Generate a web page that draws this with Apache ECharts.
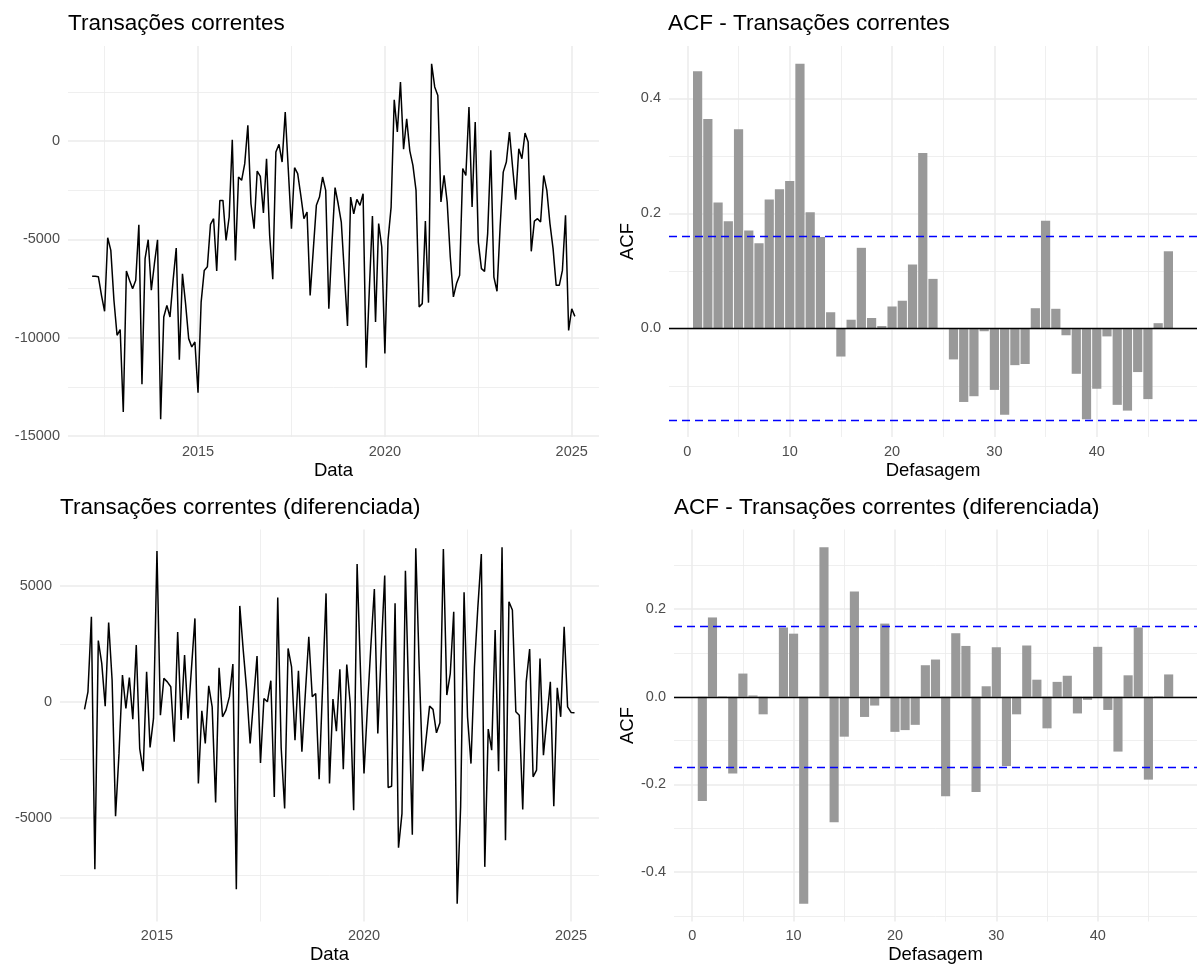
<!DOCTYPE html>
<html>
<head>
<meta charset="utf-8">
<script src="https://cdn.jsdelivr.net/npm/echarts@6/dist/echarts.min.js"></script>
<style>
  html, body { margin: 0; padding: 0; background: #ffffff; }
  #chart { width: 1197px; height: 967px; }
</style>
</head>
<body>
<div id="chart"></div>
<script>
// Transações correntes (mensal), mar/2012 – fev/2025
const inicioNivel = [2012, 3];
const transacoes = [
  -6880, -6880, -6900, -7850, -8660, -4915, -5560, -8100, -9880, -9590,
  -13780, -6610, -7085, -7510, -7085, -4255, -12370, -5980, -5020, -7590,
  -6240, -5020, -14150, -8950, -8360, -8950, -7085, -5440, -11120, -6750,
  -8270, -10050, -10475, -10220, -12800, -8190, -6580, -6400, -4240, -3950,
  -6610, -3020, -3020, -5050, -3865, 70, -6070, -1830, -2000, -1150,
  800, -3190, -4460, -1525, -1800, -3660, -900, -4800, -7030, -560,
  -170, -1070, 1475, -1500, -4460, -1355, -1660, -2760, -3950, -3610,
  -7850, -5560, -3270, -2850, -1830, -2510, -8530, -5220, -2370, -3190,
  -4120, -6750, -9410, -2850, -3700, -2970, -3270, -2680, -11530, -7590,
  -3810, -9200, -4200, -5390, -10810, -5050, -3360, 2100, 460, 3000,
  -420, 1135, -500, -1240, -2510, -8440, -8270, -4070, -8220, 3930,
  2750, 2320, -3100, -1750, -3100, -5900, -7930, -7250, -6830, -1400,
  -1750, 1730, -3360, 970, -5140, -6490, -6630, -4710, -475, -6920,
  -7640, -4370, -1580, -1070, 460, -1320, -2980, -390, -900, 410,
  -50, -5610, -4070, -3950, -4120, -1750, -2510, -4200, -5470, -7340,
  -7340, -6580, -3780, -9630, -8530, -8920
];

// Série diferenciada, abr/2013 – fev/2025
const inicioDif = [2013, 4];
const transacoesDif = [
  -330, 430, 3670, -7230, 2640, 1660, -190, 3420, 940, -4940,
  -2230, 1150, -290, 1040, -750, 2450, -2020, -3000, 1300, -1970,
  -720, 6510, -580, 1010, 860, 650, -1730, 3010, -790, 2020,
  -720, 1440, 3600, -3530, -390, -1800, 690, -220, -4350, 1470,
  -650, -360, 220, 1630, -8100, 4140, 2230, 500, -1800, 70,
  1970, -2640, 140, 0, 910, -4110, 4500, -2000, -4610, 2300,
  1510, -1660, 1340, -2160, 360, 2810, 220, 360, -3340, 650,
  4680, -3530, 115, -1270, 1400, -2910, 1610, -70, -4680, 5950,
  1220, -3100, -220, 2450, 4870, -1370, 2230, 5450, -3700, -3650,
  4250, -6300, -4830, 5660, -70, -5740, 6630, 1500, -3000, -1590,
  -190, -330, -1340, -910, 6600, 290, 1220, 3890, -8720, -4540,
  4730, -650, -2670, 1500, 4100, 6380, -7130, -1180, -2090, 3100,
  -3000, 6670, -5980, 4320, 3960, -430, -580, -4650, 860, 2280,
  -3240, -2950, 1870, -2310, -720, 860, -4510, 600, -650, 3240,
  -220, -460, -475
];

// Defasagens e autocorrelações
const defasagens = [
  1, 2, 3, 4, 5, 6, 7, 8, 9, 10, 11, 12, 13, 14, 15, 16, 17, 18, 19, 20,
  21, 22, 23, 24, 25, 26, 27, 28, 29, 30, 31, 32, 33, 34, 35, 36, 37, 38, 39, 40,
  41, 42, 43, 44, 45, 46, 47
];
const acfNivel = [
  0.447, 0.364, 0.219, 0.186, 0.346, 0.170, 0.148, 0.224, 0.242, 0.256,
  0.460, 0.202, 0.159, 0.028, -0.049, 0.015, 0.140, 0.018, 0.004, 0.038,
  0.048, 0.111, 0.305, 0.086, -0.001, -0.054, -0.128, -0.118, -0.005, -0.107,
  -0.150, -0.064, -0.062, 0.035, 0.187, 0.034, -0.012, -0.079, -0.158, -0.105,
  -0.014, -0.133, -0.143, -0.076, -0.123, 0.009, 0.134
];
const acfDif = [
  -0.238, 0.181, 0.001, -0.175, 0.053, 0.003, -0.040, 0.000, 0.158, 0.144,
  -0.472, -0.001, 0.341, -0.286, -0.091, 0.240, -0.046, -0.020, 0.167, -0.080,
  -0.076, -0.064, 0.072, 0.085, -0.227, 0.145, 0.116, -0.217, 0.024, 0.113,
  -0.158, -0.040, 0.117, 0.039, -0.072, 0.034, 0.048, -0.038, -0.007, 0.114,
  -0.030, -0.125, 0.049, 0.158, -0.189, 0.001, 0.051
];
// Limites de significância (±)
const limiteNivel = 0.157;
const limiteDif = 0.164;

// Marcas dos eixos (principais e secundárias)
const anosPrincipais = [2015, 2020, 2025];
const anosSecundarios = [2012.5, 2017.5, 2022.5];
const lagPrincipais = [0, 10, 20, 30, 40];
const lagSecundarios = [5, 15, 25, 35, 45];
const nivelPrincipais = [-15000, -10000, -5000, 0];
const nivelSecundarios = [-12500, -7500, -2500, 2500];
const difPrincipais = [-5000, 0, 5000];
const difSecundarios = [-7500, -2500, 2500];
const acfNivelPrincipais = [0, 0.2, 0.4];
const acfNivelSecundarios = [-0.1, 0.1, 0.3];
const acfDifPrincipais = [-0.4, -0.2, 0, 0.2];
const acfDifSecundarios = [-0.5, -0.3, -0.1, 0.1, 0.3];

const FONT = '"Liberation Sans", Arial, sans-serif';
const GRID_COLOR = '#EBEBEB';
const LABEL_COLOR = '#4D4D4D';

function mesDecimal(inicio, i) {
  const m = inicio[1] - 1 + i;
  return inicio[0] + Math.floor(m / 12) + (m % 12) / 12;
}
function expandir(lo, hi) {
  const r = hi - lo;
  return [lo - 0.05 * r, hi + 0.05 * r];
}
function dentro(vals, ext) {
  return vals.filter(v => v >= ext[0] && v <= ext[1]);
}

const ptsNivel = transacoes.map((v, i) => [mesDecimal(inicioNivel, i), v]);
const ptsDif = transacoesDif.map((v, i) => [mesDecimal(inicioDif, i), v]);
const barsNivel = defasagens.map((l, i) => [l, acfNivel[i]]);
const barsDif = defasagens.map((l, i) => [l, acfDif[i]]);

const xNivel = expandir(ptsNivel[0][0], ptsNivel[ptsNivel.length - 1][0]);
const yNivel = expandir(Math.min(...transacoes), Math.max(...transacoes));
const xDif = expandir(ptsDif[0][0], ptsDif[ptsDif.length - 1][0]);
const yDif = expandir(Math.min(...transacoesDif), Math.max(...transacoesDif));
const xLag = expandir(defasagens[0] - 0.45, defasagens[defasagens.length - 1] + 0.45);
const yAcfNivel = expandir(Math.min(0, -limiteNivel, ...acfNivel), Math.max(0, limiteNivel, ...acfNivel));
const yAcfDif = expandir(Math.min(0, -limiteDif, ...acfDif), Math.max(0, limiteDif, ...acfDif));

const grids = [
  { left: 68, top: 46, width: 531, height: 391 },
  { left: 669, top: 46, width: 536, height: 391 },
  { left: 60, top: 529.5, width: 539, height: 392 },
  { left: 674, top: 529.5, width: 531, height: 392 }
];

const labelStyle = { color: LABEL_COLOR, fontSize: 14.5, fontFamily: FONT };
const nameStyle = { color: '#000000', fontSize: 18.5, fontFamily: FONT };

function eixoX(idx, ext, ticks, nome, fmt) {
  return {
    type: 'value', gridIndex: idx, min: ext[0], max: ext[1],
    axisLine: { show: false }, axisTick: { show: false }, splitLine: { show: false },
    axisLabel: Object.assign({ customValues: ticks, formatter: fmt, margin: 7 }, labelStyle),
    name: nome, nameLocation: 'middle', nameGap: 24, nameTextStyle: nameStyle
  };
}
function eixoY(idx, ext, ticks, nome, fmt) {
  const ax = {
    type: 'value', gridIndex: idx, min: ext[0], max: ext[1],
    axisLine: { show: false }, axisTick: { show: false }, splitLine: { show: false },
    axisLabel: Object.assign({ customValues: ticks, formatter: fmt, margin: 8 }, labelStyle)
  };
  if (nome) {
    ax.name = nome; ax.nameLocation = 'middle'; ax.nameGap = 32; ax.nameTextStyle = nameStyle;
  }
  return ax;
}

const fmtInt = v => String(Math.round(v));
const fmtDec = v => v.toFixed(1);

// Linhas de grade desenhadas como markLine de uma série auxiliar, abaixo dos dados
function grade(idx, xExt, yExt, xMaj, xMin, yMaj, yMin) {
  const d = [];
  dentro(xMin, xExt).forEach(v => d.push({ xAxis: v, lineStyle: { width: 0.8 } }));
  dentro(yMin, yExt).forEach(v => d.push({ yAxis: v, lineStyle: { width: 0.8 } }));
  dentro(xMaj, xExt).forEach(v => d.push({ xAxis: v, lineStyle: { width: 1.5 } }));
  dentro(yMaj, yExt).forEach(v => d.push({ yAxis: v, lineStyle: { width: 1.5 } }));
  return {
    type: 'line', xAxisIndex: idx, yAxisIndex: idx, data: [], z: 1, silent: true,
    markLine: {
      z: 1, silent: true, symbol: ['none', 'none'], label: { show: false }, animation: false,
      emphasis: { disabled: true },
      lineStyle: { color: GRID_COLOR, type: 'solid' }, data: d
    }
  };
}

function referencias(idx, limite) {
  return {
    type: 'line', xAxisIndex: idx, yAxisIndex: idx, data: [], z: 6, silent: true,
    markLine: {
      z: 6, silent: true, symbol: ['none', 'none'], label: { show: false }, animation: false,
      emphasis: { disabled: true },
      data: [
        { yAxis: 0, lineStyle: { color: '#000000', width: 1.4, type: 'solid' } },
        { yAxis: limite, lineStyle: { color: '#0000FF', width: 1.4, type: [8, 5] } },
        { yAxis: -limite, lineStyle: { color: '#0000FF', width: 1.4, type: [8, 5] } }
      ]
    }
  };
}

function barra(params, api) {
  const lag = api.value(0), v = api.value(1);
  const a = api.coord([lag - 0.45, v]);
  const b = api.coord([lag + 0.45, 0]);
  return {
    type: 'rect',
    shape: { x: a[0], y: Math.min(a[1], b[1]), width: b[0] - a[0], height: Math.abs(b[1] - a[1]) },
    style: { fill: '#999999' }
  };
}

function linha(idx, pts) {
  return {
    type: 'line', xAxisIndex: idx, yAxisIndex: idx, data: pts, z: 4,
    showSymbol: false, symbol: 'none', silent: true, animation: false,
    lineStyle: { color: '#000000', width: 1.5 }
  };
}
function barras(idx, pts) {
  return {
    type: 'custom', xAxisIndex: idx, yAxisIndex: idx, data: pts, z: 4,
    renderItem: barra, encode: { x: 0, y: 1 }, silent: true, animation: false
  };
}

const titleStyle = { color: '#000000', fontSize: 22.5, fontWeight: 'normal', fontFamily: FONT };

const option = {
  backgroundColor: '#ffffff',
  animation: false,
  title: [
    { text: 'Transações correntes', left: 68, top: 12, padding: 0, textStyle: titleStyle },
    { text: 'ACF - Transações correntes', left: 668, top: 12, padding: 0, textStyle: titleStyle },
    { text: 'Transações correntes (diferenciada)', left: 60, top: 496, padding: 0, textStyle: titleStyle },
    { text: 'ACF - Transações correntes (diferenciada)', left: 674, top: 496, padding: 0, textStyle: titleStyle }
  ],
  grid: grids,
  xAxis: [
    eixoX(0, xNivel, anosPrincipais, 'Data', fmtInt),
    eixoX(1, xLag, lagPrincipais, 'Defasagem', fmtInt),
    eixoX(2, xDif, anosPrincipais, 'Data', fmtInt),
    eixoX(3, xLag, lagPrincipais, 'Defasagem', fmtInt)
  ],
  yAxis: [
    eixoY(0, yNivel, nivelPrincipais, null, fmtInt),
    eixoY(1, yAcfNivel, acfNivelPrincipais, 'ACF', fmtDec),
    eixoY(2, yDif, difPrincipais, null, fmtInt),
    eixoY(3, yAcfDif, acfDifPrincipais, 'ACF', fmtDec)
  ],
  series: [
    grade(0, xNivel, yNivel, anosPrincipais, anosSecundarios, nivelPrincipais, nivelSecundarios),
    grade(1, xLag, yAcfNivel, lagPrincipais, lagSecundarios, acfNivelPrincipais, acfNivelSecundarios),
    grade(2, xDif, yDif, anosPrincipais, anosSecundarios, difPrincipais, difSecundarios),
    grade(3, xLag, yAcfDif, lagPrincipais, lagSecundarios, acfDifPrincipais, acfDifSecundarios),
    linha(0, ptsNivel),
    barras(1, barsNivel),
    linha(2, ptsDif),
    barras(3, barsDif),
    referencias(1, limiteNivel),
    referencias(3, limiteDif)
  ]
};

const chart = echarts.init(document.getElementById('chart'), null, { renderer: 'canvas' });
chart.setOption(option);
</script>
</body>
</html>
